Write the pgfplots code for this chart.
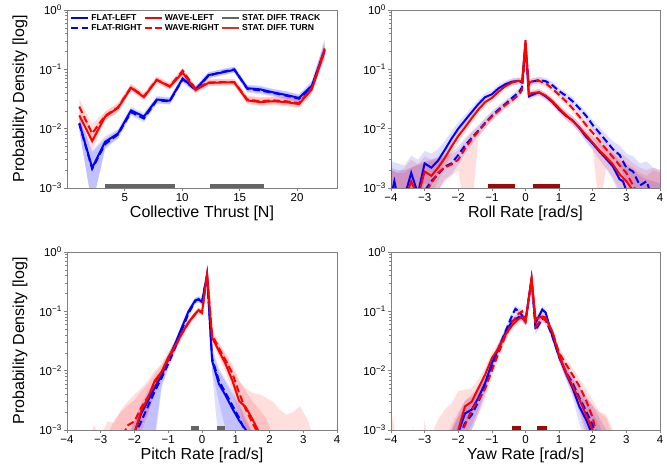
\documentclass[border=0pt]{standalone}
\usepackage{pgfplots}
\pgfplotsset{compat=1.18}
\usepackage{pgfplotstable}
\usepgfplotslibrary{fillbetween}
\usepackage{fontspec}
\setmainfont{Liberation Sans}
\definecolor{lblue}{RGB}{0,0,255}
\definecolor{lred}{RGB}{255,0,0}
\definecolor{trackgray}{RGB}{100,100,100}
\definecolor{turnred}{RGB}{160,8,8}
\definecolor{turnleg}{RGB}{215,50,35}
\definecolor{framegray}{RGB}{128,128,128}

% ---------------- Collective thrust ----------------
\pgfplotstableread{
x m lo hi
1.05 0.0124 0.0095 0.016
2.17 0.0022 0.0005 0.0042
3.30 0.0060 0.0048 0.0075
4.42 0.0083 0.0070 0.0098
5.55 0.0203 0.0175 0.0235
6.67 0.0160 0.0138 0.0185
7.79 0.0310 0.0270 0.0355
8.92 0.0296 0.0260 0.0340
10.04 0.070 0.062 0.079
11.17 0.046 0.041 0.052
12.29 0.080 0.071 0.090
13.41 0.088 0.078 0.099
14.54 0.098 0.087 0.110
15.66 0.048 0.042 0.055
16.79 0.046 0.040 0.053
17.91 0.041 0.036 0.047
19.03 0.037 0.032 0.043
20.16 0.033 0.029 0.038
21.28 0.053 0.044 0.064
22.40 0.215 0.160 0.320
}\thFL
\pgfplotstableread{
x m lo hi
1.05 0.0120 0.0092 0.0155
2.17 0.0021 0.0005 0.0040
3.30 0.0055 0.0045 0.0068
4.42 0.0080 0.0068 0.0094
5.55 0.0190 0.0165 0.0220
6.67 0.0148 0.0128 0.0172
7.79 0.0300 0.0262 0.0345
8.92 0.0290 0.0255 0.0332
10.04 0.068 0.060 0.077
11.17 0.045 0.040 0.051
12.29 0.078 0.069 0.088
13.41 0.090 0.080 0.101
14.54 0.100 0.089 0.112
15.66 0.047 0.041 0.054
16.79 0.044 0.038 0.051
17.91 0.040 0.035 0.046
19.03 0.036 0.031 0.042
20.16 0.032 0.028 0.037
21.28 0.050 0.042 0.060
22.40 0.205 0.150 0.300
}\thFR
\pgfplotstableread{
x m lo hi
1.05 0.0167 0.0125 0.022
2.17 0.0062 0.0042 0.0090
3.30 0.0160 0.0135 0.019
4.42 0.0224 0.019 0.0265
5.55 0.049 0.043 0.056
6.67 0.034 0.030 0.039
7.79 0.066 0.058 0.075
8.92 0.051 0.045 0.058
10.04 0.088 0.078 0.099
11.17 0.045 0.040 0.051
12.29 0.059 0.052 0.067
13.41 0.060 0.053 0.068
14.54 0.060 0.053 0.068
15.66 0.030 0.026 0.035
16.79 0.028 0.024 0.033
17.91 0.029 0.025 0.034
19.03 0.028 0.024 0.033
20.16 0.026 0.022 0.031
21.28 0.046 0.039 0.054
22.40 0.210 0.170 0.260
}\thWL
\pgfplotstableread{
x m lo hi
1.05 0.0235 0.018 0.032
2.17 0.0083 0.0055 0.012
3.30 0.0165 0.014 0.0195
4.42 0.023 0.0195 0.027
5.55 0.050 0.044 0.057
6.67 0.035 0.031 0.040
7.79 0.067 0.059 0.076
8.92 0.052 0.046 0.059
10.04 0.095 0.084 0.107
11.17 0.047 0.041 0.053
12.29 0.060 0.053 0.068
13.41 0.061 0.054 0.069
14.54 0.061 0.054 0.069
15.66 0.031 0.027 0.036
16.79 0.029 0.025 0.034
17.91 0.030 0.026 0.035
19.03 0.029 0.025 0.034
20.16 0.027 0.023 0.032
21.28 0.048 0.040 0.056
22.40 0.225 0.180 0.280
}\thWR

% ---------------- Roll rate ----------------
\pgfplotstableread{
x m lo hi
-4.0 0.0007 0.0004 0.0028
-3.9 0.0013 0.0004 0.0027
-3.8 0.0007 0.0004 0.0026
-3.6 0.0007 0.0004 0.0024
-3.4 0.0018 0.0006 0.0035
-3.2 0.0008 0.0004 0.0030
-3.0 0.0026 0.0012 0.0042
-2.8 0.0022 0.0011 0.0038
-2.6 0.0029 0.0017 0.0045
-2.4 0.0044 0.0030 0.0062
-2.2 0.0068 0.0050 0.0090
-2.0 0.0100 0.0078 0.0128
-1.8 0.0138 0.0112 0.0170
-1.6 0.0190 0.0158 0.0228
-1.4 0.0260 0.0220 0.0305
-1.2 0.0340 0.0292 0.0395
-1.0 0.0380 0.0330 0.0440
-0.8 0.0480 0.0420 0.0550
-0.6 0.0560 0.0490 0.0640
-0.4 0.0620 0.0545 0.0705
-0.2 0.0640 0.0565 0.0725
-0.1 0.0600 0.0525 0.0685
0.0 0.2800 0.2400 0.3300
0.1 0.0350 0.0305 0.0400
0.2 0.0370 0.0325 0.0420
0.4 0.0410 0.0360 0.0465
0.6 0.0350 0.0305 0.0400
0.8 0.0280 0.0243 0.0322
1.0 0.0210 0.0181 0.0244
1.2 0.0165 0.0141 0.0193
1.4 0.0138 0.0117 0.0163
1.6 0.0103 0.0086 0.0123
1.8 0.0073 0.0059 0.0090
2.0 0.0056 0.0044 0.0071
2.2 0.0041 0.0030 0.0056
2.4 0.0031 0.0021 0.0045
2.6 0.0023 0.0014 0.0037
2.8 0.0014 0.0007 0.0027
2.9 0.0013 0.0006 0.0026
3.0 0.0009 0.0004 0.0024
3.2 0.0007 0.0004 0.0020
3.4 0.0005 0.0004 0.0016
3.6 0.0005 0.0004 0.0014
3.8 0.0005 0.0004 0.0013
4.0 0.0005 0.0004 0.0012
}\roFL
\pgfplotstableread{
x m lo hi
-4.0 0.0005 0.0004 0.0022
-3.8 0.0005 0.0004 0.0020
-3.6 0.0005 0.0004 0.0020
-3.4 0.0005 0.0004 0.0022
-3.2 0.0006 0.0004 0.0025
-3.0 0.0009 0.0004 0.0028
-2.8 0.0013 0.0006 0.0030
-2.6 0.0017 0.0009 0.0032
-2.4 0.0023 0.0014 0.0036
-2.2 0.0026 0.0017 0.0040
-2.0 0.0036 0.0025 0.0050
-1.8 0.0052 0.0038 0.0069
-1.6 0.0070 0.0054 0.0090
-1.4 0.0093 0.0075 0.0115
-1.2 0.0125 0.0103 0.0151
-1.0 0.0165 0.0139 0.0196
-0.8 0.0210 0.0180 0.0245
-0.6 0.0260 0.0225 0.0300
-0.4 0.0330 0.0288 0.0378
-0.2 0.0410 0.0360 0.0467
-0.1 0.0500 0.0440 0.0570
0.0 0.2200 0.1850 0.2600
0.1 0.0550 0.0485 0.0625
0.2 0.0620 0.0545 0.0705
0.4 0.0660 0.0580 0.0750
0.6 0.0630 0.0555 0.0715
0.8 0.0540 0.0475 0.0615
1.0 0.0430 0.0377 0.0490
1.2 0.0360 0.0314 0.0413
1.4 0.0290 0.0251 0.0335
1.6 0.0220 0.0189 0.0256
1.8 0.0165 0.0140 0.0194
2.0 0.0115 0.0096 0.0138
2.2 0.0085 0.0069 0.0105
2.4 0.0062 0.0048 0.0080
2.6 0.0045 0.0033 0.0061
2.8 0.0036 0.0025 0.0052
3.0 0.0022 0.0012 0.0038
3.2 0.0019 0.0010 0.0034
3.4 0.0011 0.0005 0.0026
3.6 0.0013 0.0006 0.0028
3.8 0.0006 0.0004 0.0022
4.0 0.0005 0.0004 0.0020
}\roFR
\pgfplotstableread{
x m lo hi
-4.0 0.0005 0.0004 0.0020
-3.8 0.0005 0.0004 0.0018
-3.6 0.0006 0.0004 0.0022
-3.4 0.0013 0.0005 0.0030
-3.2 0.0007 0.0004 0.0025
-3.0 0.0019 0.0008 0.0034
-2.8 0.0016 0.0008 0.0030
-2.6 0.0022 0.0013 0.0034
-2.4 0.0032 0.0022 0.0045
-2.2 0.0050 0.0037 0.0066
-2.0 0.0075 0.0058 0.0095
-1.8 0.0105 0.0085 0.0130
-1.6 0.0150 0.0124 0.0180
-1.4 0.0210 0.0178 0.0247
-1.2 0.0280 0.0240 0.0325
-1.0 0.0330 0.0285 0.0380
-0.8 0.0420 0.0365 0.0480
-0.6 0.0520 0.0455 0.0595
-0.4 0.0600 0.0525 0.0685
-0.2 0.0640 0.0560 0.0730
-0.1 0.0620 0.0540 0.0710
0.0 0.3100 0.2650 0.3600
0.1 0.0380 0.0330 0.0435
0.2 0.0400 0.0350 0.0455
0.4 0.0410 0.0360 0.0465
0.6 0.0360 0.0315 0.0410
0.8 0.0290 0.0252 0.0332
1.0 0.0220 0.0190 0.0255
1.2 0.0170 0.0145 0.0199
1.4 0.0135 0.0114 0.0160
1.6 0.0105 0.0087 0.0126
1.8 0.0078 0.0063 0.0096
2.0 0.0058 0.0045 0.0074
2.2 0.0043 0.0004 0.0058
2.4 0.0033 0.0022 0.0047
2.6 0.0025 0.0015 0.0039
2.8 0.0017 0.0009 0.0030
3.0 0.0013 0.0006 0.0026
3.2 0.0009 0.0004 0.0022
3.4 0.0006 0.0004 0.0018
3.6 0.0005 0.0004 0.0016
3.8 0.0005 0.0004 0.0020
4.0 0.0005 0.0004 0.0018
}\roWL
\pgfplotstableread{
x m lo hi
-4.0 0.0005 0.0004 0.0020
-3.8 0.0005 0.0004 0.0018
-3.6 0.0005 0.0004 0.0018
-3.4 0.0005 0.0004 0.0022
-3.2 0.0006 0.0004 0.0024
-3.0 0.0008 0.0004 0.0026
-2.8 0.0012 0.0005 0.0028
-2.6 0.0018 0.0009 0.0030
-2.4 0.0022 0.0013 0.0034
-2.2 0.0025 0.0016 0.0037
-2.0 0.0030 0.0020 0.0043
-1.8 0.0046 0.0004 0.0062
-1.6 0.0066 0.0004 0.0086
-1.4 0.0090 0.0072 0.0111
-1.2 0.0122 0.0100 0.0148
-1.0 0.0160 0.0135 0.0190
-0.8 0.0200 0.0171 0.0234
-0.6 0.0250 0.0216 0.0290
-0.4 0.0300 0.0261 0.0345
-0.2 0.0370 0.0325 0.0422
-0.1 0.0450 0.0395 0.0513
0.0 0.2500 0.2100 0.2950
0.1 0.0580 0.0510 0.0660
0.2 0.0630 0.0555 0.0715
0.4 0.0640 0.0565 0.0725
0.6 0.0580 0.0510 0.0660
0.8 0.0470 0.0412 0.0536
1.0 0.0370 0.0323 0.0424
1.2 0.0290 0.0252 0.0334
1.4 0.0220 0.0190 0.0255
1.6 0.0160 0.0136 0.0188
1.8 0.0115 0.0096 0.0138
2.0 0.0085 0.0069 0.0105
2.2 0.0062 0.0048 0.0080
2.4 0.0045 0.0033 0.0061
2.6 0.0033 0.0022 0.0049
2.8 0.0024 0.0014 0.0039
3.0 0.0018 0.0009 0.0033
3.2 0.0011 0.0005 0.0026
3.4 0.0007 0.0004 0.0022
3.6 0.0005 0.0004 0.0020
3.8 0.0005 0.0004 0.0022
4.0 0.0005 0.0004 0.0020
}\roWR

% ---------------- Pitch rate ----------------
\pgfplotstableread{
x m lo hi
-4.0 0.0005 0.0004 0.0006
-2.4 0.0005 0.0004 0.0006
-2.2 0.0005 0.0004 0.0008
-2.0 0.0009 0.0004 0.0015
-1.8 0.0019 0.0010 0.0028
-1.6 0.0031 0.0006 0.0045
-1.4 0.0052 0.0006 0.0068
-1.2 0.0083 0.0050 0.0105
-1.0 0.0157 0.0125 0.0190
-0.8 0.028 0.024 0.033
-0.6 0.053 0.046 0.061
-0.4 0.100 0.088 0.113
-0.2 0.153 0.136 0.172
-0.1 0.159 0.142 0.178
0.0 0.143 0.127 0.160
0.15 0.42 0.37 0.47
0.3 0.0147 0.0090 0.022
0.5 0.0060 0.0006 0.0100
0.7 0.0038 0.0004 0.0065
0.9 0.0023 0.0004 0.0040
1.1 0.00145 0.0004 0.0025
1.3 0.0010 0.0004 0.0014
1.5 0.0006 0.0004 0.0009
1.7 0.0005 0.0004 0.0006
4.0 0.0005 0.0004 0.0006
}\piFL
\pgfplotstableread{
x m lo hi
-4.0 0.0005 0.0004 0.0006
-2.2 0.0005 0.0004 0.0007
-2.0 0.0008 0.0004 0.0013
-1.8 0.0014 0.0007 0.0022
-1.6 0.0025 0.0008 0.0038
-1.4 0.0045 0.0008 0.0062
-1.2 0.0075 0.0055 0.0098
-1.0 0.0130 0.0105 0.0160
-0.8 0.024 0.020 0.029
-0.6 0.048 0.041 0.056
-0.4 0.092 0.080 0.105
-0.2 0.150 0.133 0.169
-0.1 0.160 0.142 0.180
0.0 0.145 0.128 0.163
0.15 0.40 0.35 0.45
0.3 0.016 0.010 0.024
0.5 0.0068 0.0030 0.011
0.7 0.0042 0.0010 0.0070
0.9 0.0026 0.0005 0.0045
1.1 0.0016 0.0004 0.0028
1.3 0.0009 0.0004 0.0016
1.5 0.0005 0.0004 0.0009
4.0 0.0005 0.0004 0.0006
}\piFR
\pgfplotstableread{
x m lo hi
-4.0 0.0005 0.0004 0.0006
-3.4 0.0005 0.0004 0.0006
-3.2 0.0005 0.0004 0.0012
-3.0 0.0005 0.0004 0.0008
-2.8 0.0005 0.0004 0.0014
-2.6 0.0005 0.0004 0.0013
-2.4 0.0005 0.0004 0.0022
-2.2 0.0006 0.0004 0.0030
-2.0 0.0009 0.0004 0.0040
-1.8 0.0021 0.0009 0.0050
-1.6 0.0035 0.0018 0.0068
-1.4 0.0068 0.0045 0.0100
-1.2 0.0095 0.0072 0.0130
-1.0 0.0168 0.0135 0.0210
-0.8 0.026 0.022 0.031
-0.6 0.042 0.036 0.049
-0.4 0.065 0.057 0.074
-0.2 0.091 0.081 0.102
-0.1 0.105 0.094 0.117
0.0 0.095 0.085 0.106
0.15 0.42 0.37 0.47
0.3 0.036 0.030 0.043
0.5 0.0216 0.017 0.028
0.7 0.0129 0.0095 0.018
0.9 0.0068 0.0045 0.011
1.1 0.0031 0.0016 0.0065
1.3 0.0024 0.0010 0.0050
1.5 0.0015 0.0005 0.0042
1.7 0.0009 0.0004 0.0040
1.9 0.0005 0.0004 0.0035
2.1 0.0005 0.0004 0.0030
2.3 0.0005 0.0004 0.0022
2.5 0.0005 0.0004 0.0018
2.7 0.0005 0.0004 0.0020
2.9 0.0005 0.0004 0.0025
3.1 0.0005 0.0004 0.0016
3.3 0.0005 0.0004 0.0008
3.5 0.0005 0.0004 0.0006
4.0 0.0005 0.0004 0.0006
}\piWL
\pgfplotstableread{
x m lo hi
-4.0 0.0005 0.0004 0.0006
-2.8 0.0005 0.0004 0.0008
-2.6 0.0005 0.0004 0.0015
-2.4 0.0007 0.0004 0.0020
-2.2 0.0012 0.0005 0.0026
-2.0 0.0014 0.0006 0.0032
-1.8 0.0024 0.0012 0.0045
-1.6 0.0036 0.0020 0.0060
-1.4 0.0060 0.0040 0.0088
-1.2 0.0095 0.0072 0.0125
-1.0 0.0150 0.0120 0.0188
-0.8 0.025 0.021 0.030
-0.6 0.042 0.036 0.049
-0.4 0.064 0.056 0.073
-0.2 0.090 0.080 0.101
-0.1 0.103 0.092 0.115
0.0 0.094 0.084 0.105
0.15 0.40 0.35 0.45
0.3 0.040 0.033 0.048
0.5 0.024 0.019 0.030
0.7 0.015 0.011 0.020
0.9 0.0090 0.0062 0.013
1.1 0.0042 0.0025 0.0070
1.3 0.0022 0.0010 0.0045
1.5 0.0013 0.0005 0.0030
1.7 0.0008 0.0004 0.0022
1.9 0.0005 0.0004 0.0016
2.1 0.0005 0.0004 0.0008
4.0 0.0005 0.0004 0.0006
}\piWR

% ---------------- Yaw rate ----------------
\pgfplotstableread{
x m lo hi
-4.0 0.0005 0.0004 0.0006
-2.4 0.0005 0.0004 0.0006
-2.2 0.0006 0.0004 0.0010
-2.0 0.0009 0.0004 0.0018
-1.8 0.0019 0.0008 0.0032
-1.6 0.0022 0.0012 0.0036
-1.4 0.0035 0.0022 0.0052
-1.2 0.0062 0.0045 0.0082
-1.0 0.0135 0.0108 0.0165
-0.8 0.024 0.020 0.029
-0.6 0.043 0.037 0.050
-0.4 0.068 0.059 0.078
-0.2 0.080 0.070 0.092
-0.1 0.078 0.068 0.090
0.0 0.068 0.059 0.078
0.18 0.35 0.31 0.40
0.3 0.064 0.056 0.074
0.5 0.107 0.094 0.122
0.6 0.095 0.083 0.108
0.8 0.038 0.033 0.044
1.0 0.0174 0.0145 0.021
1.2 0.0091 0.0072 0.0115
1.4 0.0051 0.0036 0.0070
1.6 0.0025 0.0013 0.0042
1.8 0.0015 0.0006 0.0030
2.0 0.0008 0.0004 0.0020
2.2 0.0005 0.0004 0.0012
2.4 0.0005 0.0004 0.0006
4.0 0.0005 0.0004 0.0006
}\yaFL
\pgfplotstableread{
x m lo hi
-4.0 0.0005 0.0004 0.0006
-2.4 0.0005 0.0004 0.0006
-2.2 0.0005 0.0004 0.0010
-2.0 0.0007 0.0004 0.0016
-1.8 0.0013 0.0006 0.0025
-1.6 0.0018 0.0010 0.0030
-1.4 0.0030 0.0019 0.0045
-1.2 0.0055 0.0040 0.0074
-1.0 0.0120 0.0096 0.0148
-0.8 0.024 0.020 0.029
-0.6 0.045 0.038 0.053
-0.4 0.085 0.073 0.098
-0.3 0.110 0.095 0.126
-0.2 0.100 0.087 0.115
-0.1 0.085 0.074 0.098
0.0 0.068 0.059 0.078
0.18 0.34 0.30 0.39
0.3 0.048 0.041 0.056
0.5 0.075 0.065 0.086
0.6 0.072 0.063 0.083
0.8 0.038 0.033 0.044
1.0 0.0170 0.0142 0.0203
1.2 0.0095 0.0075 0.0120
1.4 0.0062 0.0045 0.0084
1.6 0.0035 0.0022 0.0054
1.8 0.0021 0.0010 0.0038
2.0 0.0012 0.0005 0.0026
2.2 0.0005 0.0004 0.0016
2.4 0.0005 0.0004 0.0010
2.6 0.0005 0.0004 0.0006
4.0 0.0005 0.0004 0.0006
}\yaFR
\pgfplotstableread{
x m lo hi
-4.0 0.0005 0.0004 0.0006
-3.95 0.0005 0.0004 0.0018
-3.85 0.0005 0.0004 0.0006
-3.4 0.0005 0.0004 0.0006
-3.35 0.0005 0.0004 0.0012
-3.3 0.0005 0.0004 0.0006
-3.05 0.0005 0.0004 0.0006
-3.0 0.0005 0.0004 0.0015
-2.9 0.0005 0.0004 0.0006
-2.6 0.0005 0.0004 0.0015
-2.4 0.0005 0.0004 0.0022
-2.2 0.0007 0.0004 0.0028
-2.0 0.0010 0.0004 0.0045
-1.8 0.0025 0.0012 0.0048
-1.6 0.0030 0.0018 0.0050
-1.4 0.0051 0.0035 0.0072
-1.2 0.0086 0.0065 0.0112
-1.0 0.0163 0.0132 0.0200
-0.8 0.024 0.020 0.029
-0.6 0.040 0.034 0.047
-0.4 0.058 0.050 0.067
-0.2 0.075 0.065 0.086
-0.1 0.078 0.068 0.090
0.0 0.066 0.057 0.076
0.18 0.36 0.31 0.41
0.3 0.075 0.065 0.086
0.5 0.082 0.071 0.094
0.6 0.078 0.068 0.090
0.8 0.045 0.039 0.052
1.0 0.018 0.015 0.022
1.2 0.0095 0.0075 0.012
1.4 0.0055 0.0040 0.0075
1.6 0.0033 0.0020 0.0052
1.8 0.0018 0.0008 0.0035
2.0 0.0010 0.0004 0.0025
2.2 0.0005 0.0004 0.0020
2.4 0.0005 0.0004 0.0016
2.6 0.0005 0.0004 0.0008
2.9 0.0005 0.0004 0.0006
3.0 0.0005 0.0004 0.0011
3.1 0.0005 0.0004 0.0006
4.0 0.0005 0.0004 0.0006
}\yaWL
\pgfplotstableread{
x m lo hi
-4.0 0.0005 0.0004 0.0006
-2.4 0.0005 0.0004 0.0008
-2.2 0.0005 0.0004 0.0012
-2.0 0.0007 0.0004 0.0020
-1.8 0.0012 0.0005 0.0030
-1.6 0.0022 0.0010 0.0040
-1.4 0.0032 0.0018 0.0052
-1.2 0.0050 0.0033 0.0072
-1.0 0.0100 0.0078 0.0128
-0.8 0.020 0.016 0.025
-0.6 0.038 0.032 0.045
-0.4 0.065 0.056 0.075
-0.2 0.092 0.080 0.106
-0.1 0.100 0.087 0.115
0.0 0.070 0.061 0.080
0.18 0.35 0.31 0.40
0.3 0.055 0.047 0.064
0.5 0.078 0.068 0.090
0.6 0.070 0.061 0.081
0.8 0.045 0.039 0.052
1.0 0.020 0.017 0.024
1.2 0.013 0.0105 0.016
1.4 0.0085 0.0066 0.011
1.6 0.0055 0.0040 0.0075
1.8 0.0032 0.0020 0.0050
2.0 0.0016 0.0007 0.0032
2.2 0.0005 0.0004 0.0020
2.4 0.0005 0.0004 0.0018
2.6 0.0005 0.0004 0.0010
2.8 0.0005 0.0004 0.0006
4.0 0.0005 0.0004 0.0006
}\yaWR

\newcommand{\band}[3]{%
  \addplot[name path=#3hi, draw=none, forget plot] table[x=x,y=hi]{#1};
  \addplot[name path=#3lo, draw=none, forget plot] table[x=x,y=lo]{#1};
  \addplot[fill=#2, fill opacity=0.13, draw=none, forget plot] fill between[of=#3hi and #3lo];
}
\newcommand{\series}[4]{%
  \band{#1}{lblue}{a}
  \band{#2}{lblue}{b}
  \band{#3}{lred}{c}
  \band{#4}{lred}{d}
  \addplot[lblue, line width=2pt, forget plot] table[x=x,y=m]{#1};
  \addplot[lblue, line width=2pt, dash pattern=on 7pt off 3.5pt, forget plot] table[x=x,y=m]{#2};
  \addplot[lred, line width=2pt, forget plot] table[x=x,y=m]{#3};
  \addplot[lred, line width=2pt, dash pattern=on 7pt off 3.5pt, forget plot] table[x=x,y=m]{#4};
}

\begin{document}
\begin{tikzpicture}

% Top-left: collective thrust
\begin{semilogyaxis}[scale only axis, at={(67pt,278pt)}, anchor=south west, width=270pt, height=178pt,
  ymin=1e-3, ymax=1, ytick={0.001,0.01,0.1,1},
  yticklabels={10\textsuperscript{−3},10\textsuperscript{−2},10\textsuperscript{−1},10\textsuperscript{0}},
  axis line style={framegray, line width=0.8pt},
  tick pos=left, tick align=outside, tick style={framegray, line width=0.6pt},
  major tick length=3.5pt, minor tick length=2pt,
  tick label style={font=\fontsize{11.5}{13}\selectfont, inner sep=1.5pt},
  xlabel style={font=\fontsize{16}{19}\selectfont, at={(axis description cs:0.5,-0.166)}, anchor=base, inner sep=1pt},
  ylabel style={font=\fontsize{16}{19}\selectfont, at={(axis description cs:-0.174,0.5)}, anchor=center},
  xmin=-0.02, xmax=23.47, xtick={5,10,15,20}, xticklabels={5,10,15,20},
  xlabel={Collective Thrust [N]}, ylabel={Probability Density [log]},
  legend columns=3, legend cell align=left,
  legend style={at={(rel axis cs:0.0,1)}, anchor=north west, draw=none, fill=none,
    font=\fontsize{8.6}{9.6}\bfseries\selectfont, row sep=-1.5pt}]
\series{\thFL}{\thFR}{\thWL}{\thWR}
\addplot[trackgray, line width=4pt, forget plot] coordinates {(3.3,0.00108) (9.35,0.00108)};
\addplot[trackgray, line width=4pt, forget plot] coordinates {(12.4,0.00108) (17.1,0.00108)};
\addlegendimage{lblue, line width=2pt}
\addlegendentry{FLAT-LEFT}
\addlegendimage{lred, line width=2pt}
\addlegendentry{WAVE-LEFT}
\addlegendimage{trackgray, line width=2pt}
\addlegendentry{STAT. DIFF. TRACK}
\addlegendimage{lblue, line width=2pt, dash pattern=on 7pt off 3.5pt}
\addlegendentry{FLAT-RIGHT}
\addlegendimage{lred, line width=2pt, dash pattern=on 7pt off 3.5pt}
\addlegendentry{WAVE-RIGHT}
\addlegendimage{turnleg, line width=2pt}
\addlegendentry{STAT. DIFF. TURN}
\end{semilogyaxis}

% Top-right: roll rate
\begin{semilogyaxis}[scale only axis, at={(391pt,278pt)}, anchor=south west, width=269pt, height=178pt,
  ymin=1e-3, ymax=1, ytick={0.001,0.01,0.1,1},
  yticklabels={10\textsuperscript{−3},10\textsuperscript{−2},10\textsuperscript{−1},10\textsuperscript{0}},
  axis line style={framegray, line width=0.8pt},
  tick pos=left, tick align=outside, tick style={framegray, line width=0.6pt},
  major tick length=3.5pt, minor tick length=2pt,
  tick label style={font=\fontsize{11.5}{13}\selectfont, inner sep=1.5pt},
  xlabel style={font=\fontsize{16}{19}\selectfont, at={(axis description cs:0.5,-0.166)}, anchor=base, inner sep=1pt},
  xmin=-4, xmax=4, xtick={-4,-3,-2,-1,0,1,2,3,4}, xticklabels={−4,−3,−2,−1,0,1,2,3,4},
  xlabel={Roll Rate [rad/s]}]
\series{\roFL}{\roFR}{\roWL}{\roWR}
\addplot[turnred, line width=4pt, forget plot] coordinates {(-1.12,0.00108) (-0.32,0.00108)};
\addplot[turnred, line width=4pt, forget plot] coordinates {(0.23,0.00108) (1.03,0.00108)};
\end{semilogyaxis}

% Bottom-left: pitch rate
\begin{semilogyaxis}[scale only axis, at={(67pt,36pt)}, anchor=south west, width=270pt, height=178pt,
  ymin=1e-3, ymax=1, ytick={0.001,0.01,0.1,1},
  yticklabels={10\textsuperscript{−3},10\textsuperscript{−2},10\textsuperscript{−1},10\textsuperscript{0}},
  axis line style={framegray, line width=0.8pt},
  tick pos=left, tick align=outside, tick style={framegray, line width=0.6pt},
  major tick length=3.5pt, minor tick length=2pt,
  tick label style={font=\fontsize{11.5}{13}\selectfont, inner sep=1.5pt},
  xlabel style={font=\fontsize{16}{19}\selectfont, at={(axis description cs:0.5,-0.166)}, anchor=base, inner sep=1pt},
  ylabel style={font=\fontsize{16}{19}\selectfont, at={(axis description cs:-0.174,0.5)}, anchor=center},
  xmin=-4, xmax=4, xtick={-4,-3,-2,-1,0,1,2,3,4}, xticklabels={−4,−3,−2,−1,0,1,2,3,4},
  xlabel={Pitch Rate [rad/s]}, ylabel={Probability Density [log]}]
\series{\piFL}{\piFR}{\piWL}{\piWR}
\addplot[trackgray, line width=4pt, forget plot] coordinates {(-0.33,0.00108) (-0.09,0.00108)};
\addplot[trackgray, line width=4pt, forget plot] coordinates {(0.43,0.00108) (0.67,0.00108)};
\end{semilogyaxis}

% Bottom-right: yaw rate
\begin{semilogyaxis}[scale only axis, at={(391pt,36pt)}, anchor=south west, width=269pt, height=178pt,
  ymin=1e-3, ymax=1, ytick={0.001,0.01,0.1,1},
  yticklabels={10\textsuperscript{−3},10\textsuperscript{−2},10\textsuperscript{−1},10\textsuperscript{0}},
  axis line style={framegray, line width=0.8pt},
  tick pos=left, tick align=outside, tick style={framegray, line width=0.6pt},
  major tick length=3.5pt, minor tick length=2pt,
  tick label style={font=\fontsize{11.5}{13}\selectfont, inner sep=1.5pt},
  xlabel style={font=\fontsize{16}{19}\selectfont, at={(axis description cs:0.5,-0.166)}, anchor=base, inner sep=1pt},
  xmin=-4, xmax=4, xtick={-4,-3,-2,-1,0,1,2,3,4}, xticklabels={−4,−3,−2,−1,0,1,2,3,4},
  xlabel={Yaw Rate [rad/s]}]
\series{\yaFL}{\yaFR}{\yaWL}{\yaWR}
\addplot[turnred, line width=4pt, forget plot] coordinates {(-0.39,0.00108) (-0.12,0.00108)};
\addplot[turnred, line width=4pt, forget plot] coordinates {(0.35,0.00108) (0.63,0.00108)};
\end{semilogyaxis}
\path (0pt,0pt) (667pt,466pt);
\end{tikzpicture}
\end{document}
